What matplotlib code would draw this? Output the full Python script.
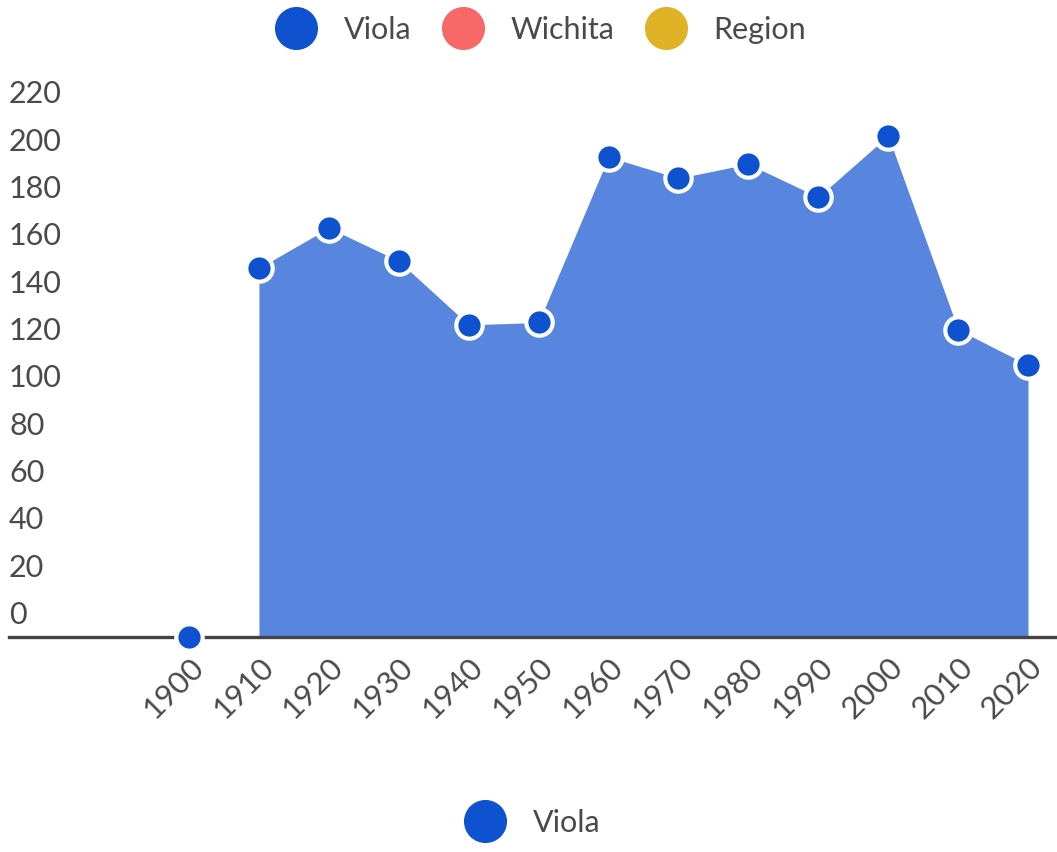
import matplotlib.pyplot as plt
import matplotlib.transforms as mtransforms
from matplotlib.lines import Line2D

plt.rcParams['font.family'] = ['Lato', 'DejaVu Sans']

years = [1900, 1910, 1920, 1930, 1940, 1950, 1960, 1970, 1980, 1990, 2000, 2010, 2020]
viola = [0, 156, 173, 159, 132, 133, 203, 194, 200, 186, 212, 130, 115]
yticks = [0, 20, 40, 60, 80, 100, 120, 140, 160, 180, 200, 220]
legend_names = ['Viola', 'Wichita', 'Region']
legend_colors = ['#0f52cf', '#f76868', '#e0b225']

text_color = '#4a4a4a'
fill_color = '#5886de'
point_color = '#0f52cf'

fig = plt.figure(figsize=(10.57, 8.52), dpi=100)
ax = fig.add_axes([9 / 1057, 0.2523, 1 - 9 / 1057, 0.6385])

# filled area only where the series has real counts (1910 on)
ax.fill_between(years[1:], viola[1:], 0, color=fill_color, lw=0, zorder=1)
ax.plot(years, viola, ls='none', marker='o', ms=19, mfc=point_color,
        mec='white', mew=3, zorder=3, clip_on=False)

ax.set_xlim(1874.25, 2024.15)
ax.set_ylim(0, 230)

for s in ['top', 'right', 'left']:
    ax.spines[s].set_visible(False)
ax.spines['bottom'].set_color('#444444')
ax.spines['bottom'].set_linewidth(2.4)
ax.spines['bottom'].set_zorder(2)

ax.set_xticks(years)
ax.set_xticklabels([str(y) for y in years], rotation=45, ha='right', va='top',
                   rotation_mode='anchor', fontsize=22.5, color=text_color)
ax.tick_params(axis='x', length=0, pad=11)
ax.set_yticks([])

# y labels sit just above their value
ylab_trans = mtransforms.offset_copy(ax.get_yaxis_transform(), fig=fig, x=0, y=16, units='points')
for v in yticks:
    ax.text(0.0, v, str(v), transform=ylab_trans, ha='left', va='center',
            fontsize=22, color=text_color)

top_handles = [Line2D([], [], ls='none', marker='o', ms=30, mfc=c, mec=c)
               for c in legend_colors]
fig.legend(top_handles, legend_names, loc='center', bbox_to_anchor=(0.515, 1 - 30 / 852),
           ncol=3, frameon=False, fontsize=22, handlelength=0.9, handletextpad=1.1,
           columnspacing=1.25, labelcolor=text_color)

bottom_handle = [Line2D([], [], ls='none', marker='o', ms=30, mfc=legend_colors[0],
                        mec=legend_colors[0])]
fig.legend(bottom_handle, legend_names[:1], loc='center', bbox_to_anchor=(0.507, 1 - 823 / 852),
           frameon=False, fontsize=22, handlelength=0.9, handletextpad=1.1,
           labelcolor=text_color)

fig.savefig('out.png', dpi=100)
